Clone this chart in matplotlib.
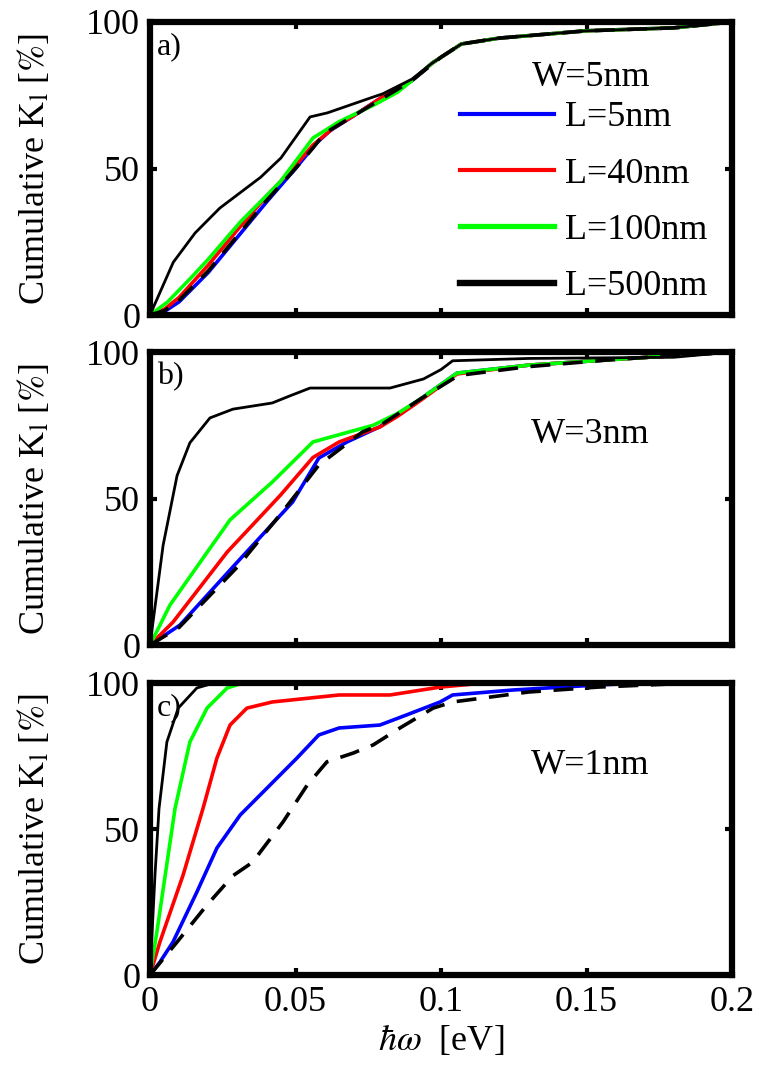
import matplotlib
matplotlib.use("Agg")
import matplotlib.pyplot as plt

plt.rcParams['font.family'] = ['Liberation Serif', 'DejaVu Serif']
plt.rcParams['mathtext.fontset'] = 'stix'

# ---------------- data ----------------
# panel a) W=5nm
a_L5_x = [0, 0.005, 0.01, 0.02, 0.03, 0.04, 0.05, 0.057, 0.062, 0.07, 0.08, 0.09, 0.097, 0.107, 0.12, 0.15, 0.18, 0.2]
a_L5_y = [0, 1.2, 4.5, 14.5, 26.5, 38.5, 50, 58.5, 63, 68, 74.5, 80, 86, 92.5, 94.5, 97, 98, 100]
a_L40_x = [0, 0.005, 0.01, 0.02, 0.03, 0.04, 0.05, 0.056, 0.063, 0.07, 0.08, 0.09, 0.097, 0.107, 0.12, 0.15, 0.18, 0.2]
a_L40_y = [0, 2, 6, 17, 29, 40.5, 51, 58, 63.8, 68, 74.5, 80, 86, 92.5, 94.5, 97, 98, 100]
a_L100_x = [0, 0.006, 0.014, 0.02, 0.031, 0.0447, 0.056, 0.065, 0.077, 0.085, 0.09, 0.097, 0.107, 0.12, 0.15, 0.18, 0.2]
a_L100_y = [0, 4.4, 12.6, 19, 31.7, 45.4, 60.4, 66, 71.7, 76, 80, 86, 92.5, 94.5, 97, 98, 100]
a_L500_x = [0, 0.004, 0.008, 0.0155, 0.024, 0.038, 0.045, 0.055, 0.061, 0.0767, 0.08, 0.09, 0.097, 0.107, 0.12, 0.15, 0.18, 0.2]
a_L500_y = [0, 9, 18, 28, 36.5, 47, 53.6, 67.6, 69, 74.4, 75.5, 80.5, 86, 92.5, 94.5, 97, 98, 100]
a_bulk_x = [0, 0.005, 0.01, 0.02, 0.03, 0.04, 0.05, 0.056, 0.06, 0.07, 0.08, 0.09, 0.095, 0.1, 0.107, 0.12, 0.15, 0.18, 0.2]
a_bulk_y = [0, 1.5, 5, 15, 27, 39, 50, 57, 62, 68, 74, 80, 84, 88, 92.5, 94.5, 97, 98, 100]

# panel b) W=3nm
b_L5_x = [0, 0.0103, 0.03, 0.049, 0.058, 0.0677, 0.079, 0.093, 0.1055, 0.13, 0.16, 0.184, 0.2]
b_L5_y = [0, 6.8, 28.3, 48.8, 63.8, 69.3, 74.5, 84, 92.8, 95.5, 97.5, 99, 100]
b_L40_x = [0, 0.0079, 0.0265, 0.0447, 0.056, 0.065, 0.079, 0.085, 0.093, 0.1055, 0.13, 0.16, 0.184, 0.2]
b_L40_y = [0, 7.8, 31.7, 51, 64, 69.3, 74.4, 78, 83.5, 92.5, 95.5, 97.5, 99, 100]
b_L100_x = [0, 0.0069, 0.0206, 0.0275, 0.042, 0.056, 0.0767, 0.085, 0.093, 0.1055, 0.13, 0.16, 0.184, 0.2]
b_L100_y = [0, 13.7, 33, 42.7, 55.6, 69.3, 75, 79, 84, 92.8, 95.5, 97.5, 99, 100]
b_L500_x = [0, 0.0045, 0.0093, 0.0137, 0.0206, 0.0285, 0.042, 0.048, 0.055, 0.0825, 0.094, 0.1, 0.104, 0.13, 0.18, 0.2]
b_L500_y = [0, 34, 57.8, 69, 77.5, 80.5, 82.6, 85, 87.7, 87.7, 90.8, 94, 97, 97.8, 98.2, 100]
b_bulk_x = [0, 0.01, 0.03, 0.0457, 0.058, 0.073, 0.08, 0.093, 0.106, 0.13, 0.16, 0.184, 0.2]
b_bulk_y = [0, 6, 26.6, 45.7, 61.4, 72.7, 75.5, 84, 92, 95, 97.5, 99, 100]

# panel c) W=1nm
c_L5_x = [0, 0.0034, 0.0079, 0.0161, 0.023, 0.031, 0.0368, 0.0457, 0.0505, 0.058, 0.065, 0.079, 0.088, 0.0997, 0.104, 0.1247, 0.1536, 0.17, 0.2]
c_L5_y = [0, 4.4, 11.3, 28.4, 43.5, 54.8, 60.6, 69.5, 74.3, 82.2, 84.6, 85.6, 89, 93.5, 95.9, 97.6, 99.3, 100, 100]
c_L40_x = [0, 0.0034, 0.0113, 0.0182, 0.023, 0.0275, 0.0333, 0.042, 0.065, 0.0825, 0.0997, 0.115, 0.2]
c_L40_y = [0, 11.3, 34, 57, 74.3, 85.6, 91.4, 93.5, 95.9, 95.9, 98.6, 100, 100]
c_L100_x = [0, 0.0024, 0.0052, 0.0086, 0.0137, 0.0196, 0.0265, 0.032, 0.2]
c_L100_y = [0, 15, 34, 57, 79.8, 91.4, 98.3, 100, 100]
c_L500_x = [0, 0.0017, 0.0031, 0.0058, 0.0097, 0.0161, 0.022, 0.2]
c_L500_y = [0, 34, 57, 79.8, 91.4, 98.3, 100, 100]
c_bulk_x = [0, 0.0093, 0.0196, 0.0285, 0.0354, 0.0378, 0.0457, 0.054, 0.0608, 0.0698, 0.0767, 0.0859, 0.0973, 0.104, 0.13, 0.154, 0.18, 0.2]
c_bulk_y = [0, 11.3, 24, 34, 38.7, 42, 52.4, 65, 73, 76, 78.8, 84.6, 91.4, 93.5, 96.9, 98.6, 99.7, 100]

labels = ['L=5nm', 'L=40nm', 'L=100nm', 'L=500nm']
colors = ['#0000ff', '#ff0000', '#00ff00', '#000000']
panel_tags = ['a)', 'b)', 'c)']
widths = ['W=5nm', 'W=3nm', 'W=1nm']
xticks = [0, 0.05, 0.1, 0.15, 0.2]
xticklabels = ['0', '0.05', '0.1', '0.15', '0.2']
yticks = [0, 50, 100]

panels = [
    [(a_L5_x, a_L5_y), (a_L40_x, a_L40_y), (a_L100_x, a_L100_y), (a_L500_x, a_L500_y), (a_bulk_x, a_bulk_y)],
    [(b_L5_x, b_L5_y), (b_L40_x, b_L40_y), (b_L100_x, b_L100_y), (b_L500_x, b_L500_y), (b_bulk_x, b_bulk_y)],
    [(c_L5_x, c_L5_y), (c_L40_x, c_L40_y), (c_L100_x, c_L100_y), (c_L500_x, c_L500_y), (c_bulk_x, c_bulk_y)],
]

# ---------------- figure ----------------
W, H = 758, 1072
fig = plt.figure(figsize=(W / 100, H / 100), dpi=100)
left, right = 150 / W, 732 / W
boxes = [(22, 315), (352, 645), (683, 975)]

FS = 26
for i, (top, bot) in enumerate(boxes):
    ax = fig.add_axes([left, 1 - bot / H, right - left, (bot - top) / H])
    series = panels[i]
    lines = []
    for k in range(4):
        x, y = series[k]
        lw = 2.0 if k == 3 else 2.6
        ln, = ax.plot(x, y, color=colors[k], lw=lw, label=labels[k], zorder=3)
        lines.append(ln)
    bx, by = series[4]
    ax.plot(bx, by, color='black', lw=2.6, ls=(0, (5.5, 3.5)), zorder=4)

    ax.set_xlim(0, 0.2)
    ax.set_ylim(0, 100)
    ax.set_yticks(yticks)
    ax.set_yticklabels([str(v) for v in yticks])
    ax.set_xticks(xticks)
    if i == 2:
        ax.set_xticklabels(xticklabels)
    else:
        ax.set_xticklabels([])
    for sp in ax.spines.values():
        sp.set_linewidth(4.5)
        sp.set_zorder(5)
    ax.tick_params(direction='in', length=5, width=3, top=True, right=True,
                   labelsize=FS, pad=7, colors='black')
    ax.tick_params(axis='x', pad=8)
    ax.set_ylabel('Cumulative K$_\\mathrm{l}$ [$\\%$]', fontsize=FS)
    ax.yaxis.set_label_coords(-0.168, 0.5)
    ax.text(0.012, 0.965, panel_tags[i], transform=ax.transAxes, ha='left', va='top',
            fontsize=23)
    if i == 0:
        ax.text((591 - 150) / 582, (315 - 78) / 293, widths[i], transform=ax.transAxes,
                ha='center', va='center', fontsize=FS)
        leg = ax.legend(handles=lines, loc='upper left',
                        bbox_to_anchor=((460 - 150) / 582, (315 - 101) / 293),
                        frameon=False, fontsize=FS, handlelength=2.6,
                        handletextpad=0.3, labelspacing=0.64, borderpad=0,
                        borderaxespad=0)
        for ln, lw in zip(leg.get_lines(), [3.0, 3.0, 3.8, 4.6]):
            ln.set_linewidth(lw)
    else:
        ax.text((590 - 150) / 582, 0.717, widths[i], transform=ax.transAxes,
                ha='center', va='center', fontsize=FS)
    if i == 2:
        ax.set_xlabel('$\\hbar\\omega$  [eV]', fontsize=FS, labelpad=3)

fig.savefig('out.png', dpi=100)
